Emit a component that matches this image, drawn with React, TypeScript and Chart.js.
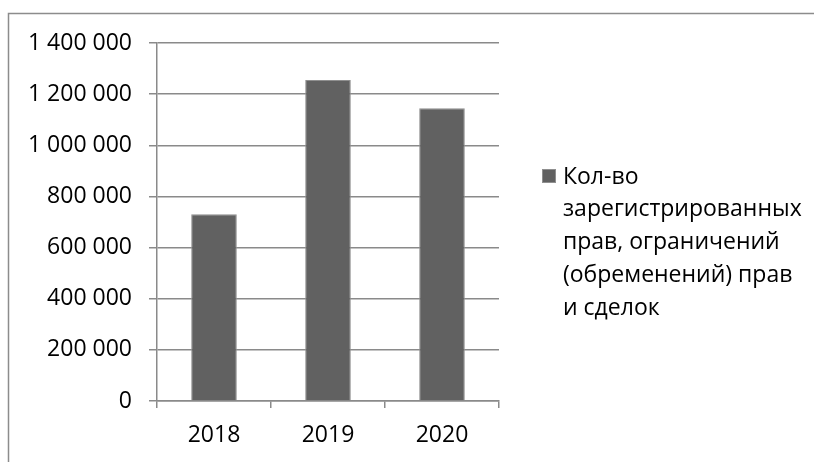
import React, { useEffect, useRef } from "react";
import { Chart, registerables } from "chart.js";

Chart.register(...registerables);

const categories: string[] = ["2018", "2019", "2020"];
const values: number[] = [730000, 1255000, 1145000];
const seriesLabel = "Кол-во зарегистрированных прав, ограничений (обременений) прав и сделок";
const legendLines: string[] = ["Кол-во", "зарегистрированных", "прав, ограничений", "(обременений) прав", "и сделок"];
const yMin = 0;
const yMax = 1400000;
const yStep = 200000;

const FONT = '"Open Sans", "Noto Sans", sans-serif';
const GRID = "#8a8a8a";

function fmt(v: number): string {
  return String(Math.round(v)).replace(/\B(?=(\d{3})+(?!\d))/g, " ");
}

export default function App() {
  const ref = useRef<HTMLCanvasElement | null>(null);

  useEffect(() => {
    if (!ref.current) return;
    const framePlugin = {
      id: "frame",
      beforeDraw(chart: any) {
        const ctx = chart.ctx;
        ctx.save();
        ctx.strokeStyle = "#8c8c8c";
        ctx.lineWidth = 1.5;
        ctx.strokeRect(8.5, 13.5, 1000, 800);
        ctx.restore();
      },
    };
    const legendPlugin = {
      id: "customLegend",
      afterDraw(chart: any) {
        const ctx = chart.ctx;
        const ds = chart.data.datasets[0];
        ctx.save();
        ctx.font = `23px ${FONT}`;
        ctx.textBaseline = "alphabetic";
        ctx.textAlign = "left";
        const mx = 542;
        const my = 169;
        const textX = 563;
        const base0 = 183.5;
        const lh = 32.9;
        ctx.fillStyle = ds.backgroundColor;
        ctx.fillRect(mx, my, 14, 14);
        ctx.strokeStyle = ds.borderColor;
        ctx.lineWidth = 1;
        ctx.strokeRect(mx + 0.5, my + 0.5, 13, 13);
        ctx.fillStyle = "#000";
        legendLines.forEach((line, i) => {
          ctx.fillText(line, textX, base0 + i * lh);
        });
        ctx.restore();
      },
    };
    const chart = new Chart(ref.current, {
      type: "bar",
      data: {
        labels: categories,
        datasets: [
          {
            label: seriesLabel,
            data: values,
            backgroundColor: "#616161",
            borderColor: "#8f8f8f",
            borderWidth: 1,
            categoryPercentage: 1,
            barPercentage: 0.4,
          },
        ],
      },
      options: {
        responsive: false,
        animation: false,
        devicePixelRatio: 1,
        layout: { padding: { left: 0, top: 43, right: 315, bottom: 0 } },
        plugins: { legend: { display: false }, tooltip: { enabled: false } },
        scales: {
          x: {
            offset: true,
            grid: {
              offset: true,
              drawOnChartArea: false,
              drawTicks: true,
              tickLength: 7,
              color: GRID,
              lineWidth: 1.5,
            },
            border: { display: true, color: GRID, width: 1.5 },
            ticks: { color: "#000", font: { family: FONT, size: 23 }, padding: 14 },
            afterFit(scale: any) {
              scale.height = 61;
            },
          },
          y: {
            min: yMin,
            max: yMax,
            ticks: {
              stepSize: yStep,
              color: "#000",
              font: { family: FONT, size: 23 },
              padding: 17,
              callback: (v: any) => fmt(Number(v)),
            },
            grid: { color: GRID, lineWidth: 1.5, tickLength: 8, drawTicks: true },
            border: { display: true, color: GRID, width: 1.5 },
            afterFit(scale: any) {
              scale.width = 157;
            },
          },
        },
      },
      plugins: [framePlugin, legendPlugin],
    });
    return () => chart.destroy();
  }, []);

  return (
    <div style={{ position: "fixed", left: 0, top: 0, width: 814, height: 462, background: "#fff" }}>
      <canvas ref={ref} width={814} height={462} style={{ display: "block", width: 814, height: 462 }} />
    </div>
  );
}
